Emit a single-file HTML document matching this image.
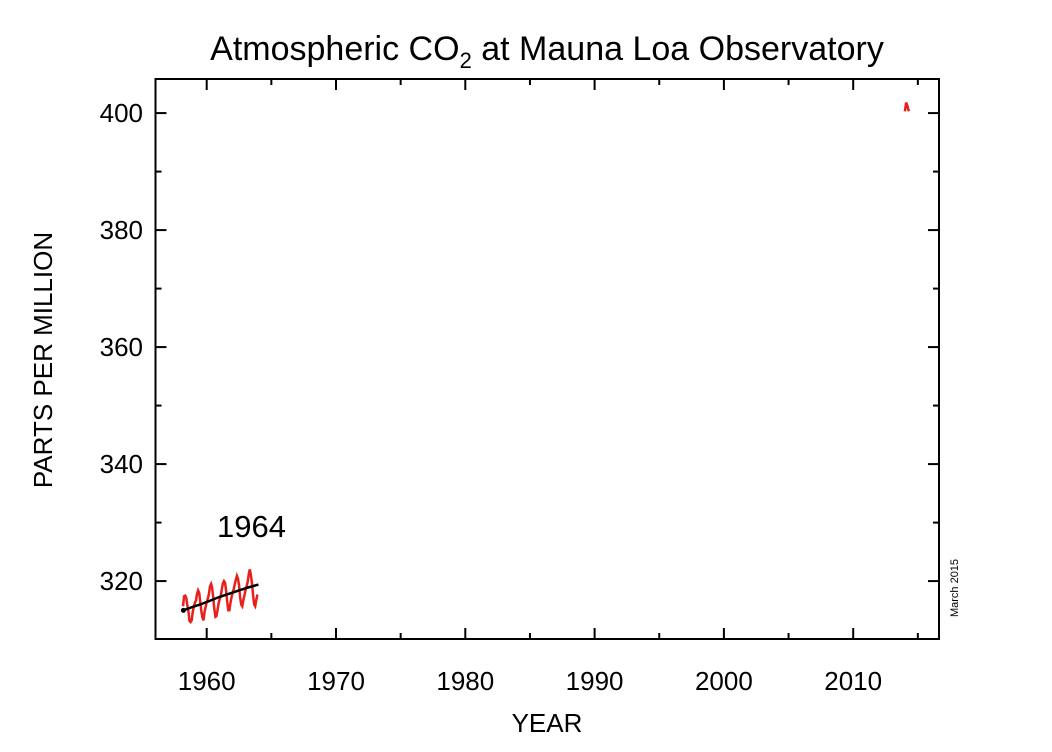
<!DOCTYPE html>
<html><head><meta charset="utf-8"><style>
html,body{margin:0;padding:0;background:#fff;}
svg{display:block;font-family:"Liberation Sans",Arial,sans-serif;}
</style></head><body>
<svg id="chart" width="1052" height="752">
<text x="547" y="60" text-anchor="middle" font-size="34">Atmospheric CO<tspan font-size="22" dy="8">2</tspan><tspan dy="-8"> at Mauna Loa Observatory</tspan></text>
<rect x="155.5" y="79" width="783.5" height="560" fill="none" stroke="#000" stroke-width="2"/>
<g id="axes"></g>
<g id="series"></g>
<text x="547" y="732" text-anchor="middle" font-size="26">YEAR</text>
<text transform="translate(52,360) rotate(-90)" text-anchor="middle" font-size="26">PARTS PER MILLION</text>
<text x="217" y="537" font-size="31">1964</text>
<text transform="translate(958,588) rotate(-90)" text-anchor="middle" font-size="11">March 2015</text>
</svg>
<script>
const xTicks=[1960,1970,1980,1990,2000,2010];
const yTicks=[320,340,360,380,400];
const monthlyValues=[315.7,317.4,317.5,317.1,315.9,314.9,313.2,313.0,313.3,314.7,
315.6,316.3,316.7,317.8,318.4,318.0,316.4,314.8,313.8,313.3,314.8,315.6,
316.4,317.0,317.8,319.1,319.5,318.9,317.3,315.3,313.9,314.0,315.0,316.2,
316.9,317.5,318.6,319.6,320.0,319.7,318.3,316.5,315.0,315.0,316.2,317.2,
318.0,318.6,319.5,320.2,320.9,320.4,319.2,317.3,316.0,315.7,316.8,317.6,
318.5,319.1,319.9,321.2,322.0,321.0,319.6,317.6,316.0,315.7,316.8,317.7];
const monthlyStart=1958.17;
const trendYears=[1958.2,1958.8,1959.5,1960.2,1961.0,1961.8,1962.5,1963.2,1964.0];
const trendValues=[315.0,315.5,316.0,316.6,317.3,317.9,318.4,318.9,319.4];
const recentYears=[2014.0,2014.1,2014.2,2014.3];
const recentValues=[400.3,401.8,401.2,400.3];
const X=v=>206.7+(v-1960)*12.93;
const Y=v=>639-(v-310.1)*5.85;
const NS="http://www.w3.org/2000/svg";
const axes=document.getElementById('axes'),ser=document.getElementById('series');
function mk(tag,attrs,parent){const e=document.createElementNS(NS,tag);for(const k in attrs)e.setAttribute(k,attrs[k]);parent.appendChild(e);return e;}
for(let y=1960;y<=2015;y+=5){const x=X(y),big=y%10===0;
 const t1=mk('line',{x1:x,x2:x,y1:639,y2:639-(big?11:6),stroke:'#000','stroke-width':2},axes);
 
 
 const t2=mk('line',{x1:x,x2:x,y1:79,y2:79+(big?11:6),stroke:'#000','stroke-width':2},axes);
 
 }
xTicks.forEach(v=>{const t=mk('text',{x:X(v),y:690,'text-anchor':'middle','font-size':26},axes);t.textContent=v;
 
 });
for(let v=310;v<=405;v+=10){if(v<310.1)continue;const y=Y(v),big=v%20===0;
 const a=mk('line',{x1:155.5,x2:155.5+(big?11:6),y1:y,y2:y,stroke:'#000','stroke-width':2},axes);
 
 
 const b=mk('line',{x1:939,x2:939-(big?11:6),y1:y,y2:y,stroke:'#000','stroke-width':2},axes);
 
 }
yTicks.forEach(v=>{const t=mk('text',{x:143,y:Y(v)+9,'text-anchor':'end','font-size':26},axes);t.textContent=v;
 
 });
const mp=monthlyValues.map((v,i)=>X(monthlyStart+i/12).toFixed(1)+','+Y(v).toFixed(1)).join(' ');
const red=mk('polyline',{points:mp,fill:'none',stroke:'#e8201c','stroke-width':2.5},ser);


const tp=trendYears.map((v,i)=>X(v).toFixed(1)+','+Y(trendValues[i]).toFixed(1)).join(' ');
const blk=mk('polyline',{points:tp,fill:'none',stroke:'#000','stroke-width':2.5},ser);


const dot=mk('circle',{cx:X(trendYears[0]),cy:Y(trendValues[0]),r:2.5,fill:'#000'},ser);


const rp=recentYears.map((v,i)=>X(v).toFixed(1)+','+Y(recentValues[i]).toFixed(1)).join(' ');
const rr=mk('polyline',{points:rp,fill:'none',stroke:'#e8201c','stroke-width':2.5},ser);


</script>
</body></html>
